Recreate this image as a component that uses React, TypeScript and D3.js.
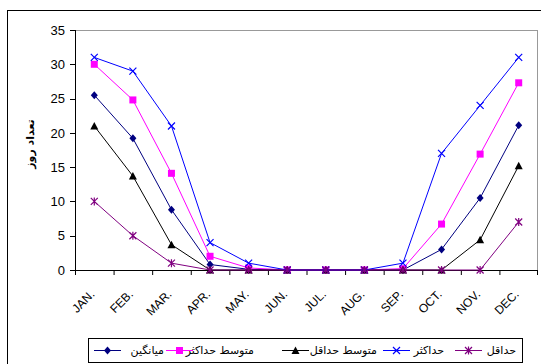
import React from 'react';
import * as d3 from 'd3';

const months = ['JAN.', 'FEB.', 'MAR.', 'APR.', 'MAY.', 'JUN.', 'JUL.', 'AUG.', 'SEP.', 'OCT.', 'NOV.', 'DEC.'];
const avgValues = [25.5, 19.2, 8.8, 0.8, 0.1, 0, 0, 0, 0, 3, 10.5, 21.1];
const avgMaxValues = [30, 24.8, 14.1, 2, 0.3, 0, 0, 0, 0.2, 6.7, 16.9, 27.3];
const avgMinValues = [21, 13.7, 3.7, 0, 0, 0, 0, 0, 0, 0, 4.4, 15.2];
const maxValues = [31, 29, 21, 4, 1, 0, 0, 0, 1, 17, 24, 31];
const minValues = [10, 5, 1, 0, 0, 0, 0, 0, 0, 0, 0, 7];
const yTicks = [0, 5, 10, 15, 20, 25, 30, 35];

type Marker = 'diamond' | 'square' | 'triangle' | 'x' | 'star';
interface Series { name: string; values: number[]; color: string; marker: Marker }

const series: Series[] = [
  { name: 'میانگین', values: avgValues, color: '#000080', marker: 'diamond' },
  { name: 'متوسط حداکثر', values: avgMaxValues, color: '#ff00ff', marker: 'square' },
  { name: 'متوسط حداقل', values: avgMinValues, color: '#000000', marker: 'triangle' },
  { name: 'حداکثر', values: maxValues, color: '#0000ff', marker: 'x' },
  { name: 'حداقل', values: minValues, color: '#800080', marker: 'star' },
];

const margin = { top: 30, left: 75, right: 3, bottom: 94 };
const W = 541;
const H = 364;

function MarkerShape({ type, x, y, color }: { type: Marker; x: number; y: number; color: string }) {
  const s = 3.5;
  switch (type) {
    case 'diamond':
      return <path d={`M${x},${y - s - 0.5}L${x + s},${y}L${x},${y + s + 0.5}L${x - s},${y}Z`} fill={color} />;
    case 'square':
      return <rect x={x - s} y={y - s} width={s * 2} height={s * 2} fill={color} />;
    case 'triangle':
      return <path d={`M${x},${y - s - 0.5}L${x + s + 0.5},${y + s}L${x - s - 0.5},${y + s}Z`} fill={color} />;
    case 'x':
      return <path d={`M${x - s},${y - s}L${x + s},${y + s}M${x + s},${y - s}L${x - s},${y + s}`} stroke={color} strokeWidth={1.2} />;
    default:
      return (
        <path
          d={`M${x - s},${y - s}L${x + s},${y + s}M${x + s},${y - s}L${x - s},${y + s}M${x},${y - s - 0.5}L${x},${y + s + 0.5}`}
          stroke={color}
          strokeWidth={1.2}
        />
      );
  }
}

const App: React.FC = () => {
  const x = d3.scaleBand().domain(months).range([margin.left, W - margin.right]);
  const y = d3.scaleLinear().domain([0, 35]).range([H - margin.bottom, margin.top]);
  const x0 = margin.left;
  const x1 = W - margin.right;
  const yb = y(0);
  const cx = (m: string) => (x(m) || 0) + x.bandwidth() / 2;

  const line = d3.line<number>()
    .x((_, i) => cx(months[i]))
    .y(d => y(d));

  // legend entries, left to right
  const legendX = [94, 166, 282, 383, 455];
  const legendTextX = [164, 254, 377, 444, 516];

  return (
    <svg width={W} height={H} style={{ position: 'absolute', left: 0, top: 0, fontFamily: 'Liberation Sans, Arial, sans-serif' }}>
      <rect x={0} y={0} width={W} height={H} fill="#fff" />
      <rect x={7.5} y={10.5} width={W} height={H} fill="none" stroke="#000" />

      {/* plot frame */}
      <line x1={x0} x2={x1} y1={margin.top + 0.5} y2={margin.top + 0.5} stroke="#999" />
      <line x1={x1 - 0.5} x2={x1 - 0.5} y1={margin.top} y2={yb} stroke="#999" />

      {/* y axis */}
      <line x1={x0 + 0.5} x2={x0 + 0.5} y1={margin.top} y2={yb} stroke="#000" />
      {yTicks.map(t => (
        <g key={t}>
          <line x1={x0 - 5} x2={x0} y1={Math.round(y(t)) + 0.5} y2={Math.round(y(t)) + 0.5} stroke="#000" />
          <text x={x0 - 10} y={y(t)} dy="0.36em" textAnchor="end" fontSize={13}>{t}</text>
        </g>
      ))}
      <text
        transform="translate(34,144) rotate(-90)"
        textAnchor="middle"
        fontSize={11}
        fontWeight="bold"
        fontFamily="DejaVu Sans, sans-serif"
      >تعداد روز</text>

      {/* x axis */}
      <line x1={x0} x2={x1} y1={yb + 0.5} y2={yb + 0.5} stroke="#000" />
      {months.map(m => (
        <line key={'t' + m} x1={(x(m) || 0) + 0.5} x2={(x(m) || 0) + 0.5} y1={yb} y2={yb + 5} stroke="#000" />
      ))}
      <line x1={x1 - 0.5} x2={x1 - 0.5} y1={yb} y2={yb + 5} stroke="#000" />
      {months.map(m => (
        <text
          key={m}
          transform={`translate(${cx(m) + 1},${yb + 25}) rotate(-45)`}
          textAnchor="end"
          fontSize={12}
        >{m}</text>
      ))}

      {/* series */}
      {series.map(s => (
        <g key={s.name}>
          <path d={line(s.values) || ''} fill="none" stroke={s.color} strokeWidth={1} />
          {s.values.map((v, i) => (
            <MarkerShape key={i} type={s.marker} x={cx(months[i])} y={y(v)} color={s.color} />
          ))}
        </g>
      ))}

      {/* legend */}
      <rect x={88.5} y={338.5} width={434} height={24} fill="#fff" stroke="#000" />
      {series.map((s, i) => (
        <g key={'l' + s.name}>
          <line x1={legendX[i]} x2={legendX[i] + 27} y1={350.5} y2={350.5} stroke={s.color} />
          <MarkerShape type={s.marker} x={legendX[i] + 13.5} y={350.5} color={s.color} />
          <text
            x={legendTextX[i]}
            y={350.5}
            dy="0.35em"
            textAnchor="end"
            fontSize={11}
            fontFamily="DejaVu Sans, sans-serif"
          >{s.name}</text>
        </g>
      ))}
    </svg>
  );
};

export default App;
